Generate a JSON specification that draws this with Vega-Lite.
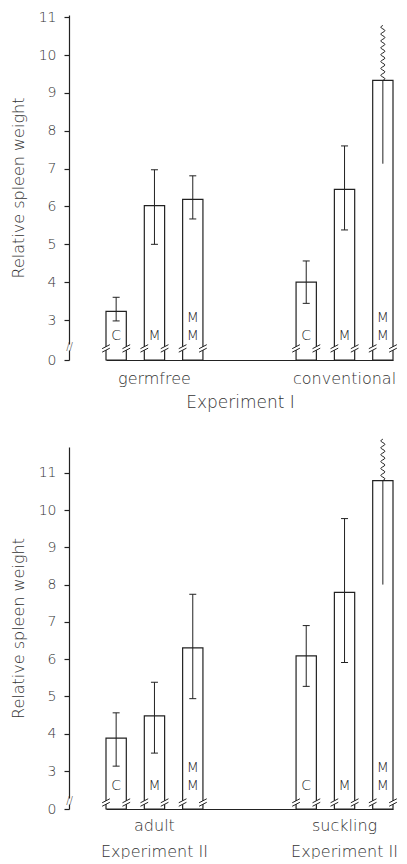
{
  "$schema": "https://vega.github.io/schema/vega-lite/v6.json",
  "background": "white",
  "padding": {"left": 10, "top": 10, "right": 0, "bottom": 0},
  "spacing": 87,
  "bounds": "flush",
  "resolve": {"scale": {"x": "independent", "y": "independent", "xOffset": "independent"}},
  "vconcat": [
    {
      "width": 287,
      "height": 345,
      "data": {"values": [
        {"group": "germfree", "t": "C", "v": 3.23, "lo": 2.93, "hi": 3.6},
        {"group": "germfree", "t": "M", "v": 6.02, "lo": 5.0, "hi": 6.97},
        {"group": "germfree", "t": "MM", "v": 6.19, "lo": 5.67, "hi": 6.81},
        {"group": "conventional", "t": "C", "v": 4.0, "lo": 3.44, "hi": 4.56},
        {"group": "conventional", "t": "M", "v": 6.45, "lo": 5.38, "hi": 7.6},
        {"group": "conventional", "t": "MM", "v": 9.33, "lo": 7.13, "hi": 10.8}
      ]},
      "encoding": {
        "x": {"field": "group", "type": "nominal", "sort": ["germfree", "conventional"],
              "scale": {"paddingInner": 0.49, "paddingOuter": 0},
              "axis": {"title": "Experiment I", "labelAngle": 0, "ticks": false, "labelPadding": 10, "labelFontSize": 16, "titleFontSize": 17, "titlePadding": 8, "titleX": 134, "titleAlign": "center"}},
        "xOffset": {"field": "t", "type": "nominal", "sort": ["C", "M", "MM"], "scale": {"paddingInner": 0.47, "paddingOuter": 0}}
      },
      "layer": [
        {"mark": {"type": "bar", "fill": "white", "stroke": "#222", "strokeWidth": 1.2},
         "encoding": {"y": {"field": "v", "type": "quantitative",
           "scale": {"domain": [0, 3, 11.06], "range": [345, 305, 0], "zero": false, "nice": false},
           "axis": {"title": "Relative spleen weight", "values": [0, 1, 3, 4, 5, 6, 7, 8, 9, 10, 11], "tickCount": 30, "format": "d",
             "offset": 37, "tickSize": 5, "grid": false, "labelOverlap": false, "labelFlush": false,
             "labelExpr": "datum.value == 1 ? '//' : datum.label",
             "labelPadding": {"condition": {"test": "datum.value == 1", "value": -5}, "value": 8},
             "labelAlign": {"condition": {"test": "datum.value == 1", "value": "center"}, "value": "right"},
             "labelFontSize": {"condition": {"test": "datum.value == 1", "value": 10}, "value": 14},
             "tickOpacity": {"condition": {"test": "datum.value == 1", "value": 0}, "value": 1},
             "domainDash": [10, 6, 2000], "titlePadding": 12, "titleFontSize": 16}}}},
        {"transform": [{"filter": "!(datum.t == 'MM' && datum.group == 'conventional')"}],
         "mark": {"type": "rule", "stroke": "#222", "strokeWidth": 1},
         "encoding": {"y": {"field": "lo", "type": "quantitative"}, "y2": {"field": "hi"}}},
        {"transform": [{"filter": "datum.t == 'MM' && datum.group == 'conventional'"}],
         "mark": {"type": "rule", "stroke": "#222", "strokeWidth": 1},
         "encoding": {"y": {"field": "lo", "type": "quantitative"}, "y2": {"field": "v"}}},
        {"transform": [{"filter": "!(datum.t == 'MM' && datum.group == 'conventional')"}],
         "mark": {"type": "point", "shape": "M-3.5,0L3.5,0", "size": 4, "filled": false, "opacity": 1, "stroke": "#222", "strokeWidth": 1},
         "encoding": {"y": {"field": "lo", "type": "quantitative"}}},
        {"transform": [{"filter": "!(datum.t == 'MM' && datum.group == 'conventional')"}],
         "mark": {"type": "point", "shape": "M-3.5,0L3.5,0", "size": 4, "filled": false, "opacity": 1, "stroke": "#222", "strokeWidth": 1},
         "encoding": {"y": {"field": "hi", "type": "quantitative"}}},
        {"transform": [{"filter": "datum.t == 'MM' && datum.group == 'conventional'"}],
         "mark": {"type": "point", "shape": "M0,0Q4,-1.72 0,-3.44Q-4,-5.16 0,-6.88Q4,-8.59 0,-10.31Q-4,-12.03 0,-13.75Q4,-15.47 0,-17.19Q-4,-18.91 0,-20.63Q4,-22.34 0,-24.06Q-4,-25.78 0,-27.5Q4,-29.22 0,-30.94Q-4,-32.66 0,-34.38Q4,-36.09 0,-37.81Q-4,-39.53 0,-41.25Q4,-42.97 0,-44.69Q-4,-46.41 0,-48.13Q4,-49.84 0,-51.56Q-4,-53.28 0,-55", "size": 4, "filled": false, "opacity": 1, "stroke": "#222", "strokeWidth": 1},
         "encoding": {"y": {"field": "v", "type": "quantitative"}}},
        {"mark": {"type": "point", "shape": "M-14,2L-6.3,-2L-6.3,1.5L-14,5.5ZM6.3,2L14,-2L14,1.5L6.3,5.5Z", "size": 4, "filled": true, "fill": "white", "strokeWidth": 0, "opacity": 1},
         "encoding": {"y": {"datum": 1, "type": "quantitative"}}},
        {"mark": {"type": "point", "shape": "M-14,2L-6.3,-2M-14,5.5L-6.3,1.5M6.3,2L14,-2M6.3,5.5L14,1.5", "size": 4, "filled": false, "opacity": 1, "stroke": "#222", "strokeWidth": 1},
         "encoding": {"y": {"datum": 1, "type": "quantitative"}}},
        {"transform": [{"filter": "datum.t != 'MM'"}],
         "mark": {"type": "text", "baseline": "bottom", "align": "center", "fontSize": 14, "fill": "#222"},
         "encoding": {"y": {"datum": 1.3, "type": "quantitative"}, "text": {"field": "t", "type": "nominal"}}},
        {"transform": [{"filter": "datum.t == 'MM'"}],
         "mark": {"type": "text", "baseline": "bottom", "align": "center", "fontSize": 14, "fill": "#222", "lineHeight": 18, "lineBreak": "\n", "dy": -18, "text": "M\nM"},
         "encoding": {"y": {"datum": 1.3, "type": "quantitative"}}}
      ]
    },
    {
      "width": 287,
      "height": 362,
      "data": {"values": [
        {"group": "adult", "t": "C", "v": 3.88, "lo": 3.13, "hi": 4.56},
        {"group": "adult", "t": "M", "v": 4.48, "lo": 3.48, "hi": 5.38},
        {"group": "adult", "t": "MM", "v": 6.3, "lo": 4.94, "hi": 7.74},
        {"group": "suckling", "t": "C", "v": 6.09, "lo": 5.27, "hi": 6.9},
        {"group": "suckling", "t": "M", "v": 7.79, "lo": 5.91, "hi": 9.77},
        {"group": "suckling", "t": "MM", "v": 10.79, "lo": 8.0, "hi": 11.9}
      ]},
      "encoding": {
        "x": {"field": "group", "type": "nominal", "sort": ["adult", "suckling"],
              "scale": {"paddingInner": 0.49, "paddingOuter": 0},
              "axis": {"title": null, "labelAngle": 0, "ticks": false, "labelPadding": 8, "labelFontSize": 16, "labelLineHeight": 26,
                       "labelExpr": "[datum.label, 'Experiment II']"}},
        "xOffset": {"field": "t", "type": "nominal", "sort": ["C", "M", "MM"], "scale": {"paddingInner": 0.47, "paddingOuter": 0}}
      },
      "layer": [
        {"mark": {"type": "bar", "fill": "white", "stroke": "#222", "strokeWidth": 1.2},
         "encoding": {"y": {"field": "v", "type": "quantitative",
           "scale": {"domain": [0, 3, 11.69], "range": [362, 324, 0], "zero": false, "nice": false},
           "axis": {"title": "Relative spleen weight", "values": [0, 0.65, 3, 4, 5, 6, 7, 8, 9, 10, 11], "tickCount": 30, "format": "d",
             "offset": 37, "tickSize": 5, "grid": false, "labelOverlap": false, "labelFlush": false,
             "labelExpr": "datum.value == 0.65 ? '//' : datum.label",
             "labelPadding": {"condition": {"test": "datum.value == 0.65", "value": -5}, "value": 8},
             "labelAlign": {"condition": {"test": "datum.value == 0.65", "value": "center"}, "value": "right"},
             "labelFontSize": {"condition": {"test": "datum.value == 0.65", "value": 10}, "value": 14},
             "tickOpacity": {"condition": {"test": "datum.value == 0.65", "value": 0}, "value": 1},
             "domainDash": [5, 6, 2000], "titlePadding": 12, "titleFontSize": 16}}}},
        {"transform": [{"filter": "!(datum.t == 'MM' && datum.group == 'suckling')"}],
         "mark": {"type": "rule", "stroke": "#222", "strokeWidth": 1},
         "encoding": {"y": {"field": "lo", "type": "quantitative"}, "y2": {"field": "hi"}}},
        {"transform": [{"filter": "datum.t == 'MM' && datum.group == 'suckling'"}],
         "mark": {"type": "rule", "stroke": "#222", "strokeWidth": 1},
         "encoding": {"y": {"field": "lo", "type": "quantitative"}, "y2": {"field": "v"}}},
        {"transform": [{"filter": "!(datum.t == 'MM' && datum.group == 'suckling')"}],
         "mark": {"type": "point", "shape": "M-3.5,0L3.5,0", "size": 4, "filled": false, "opacity": 1, "stroke": "#222", "strokeWidth": 1},
         "encoding": {"y": {"field": "lo", "type": "quantitative"}}},
        {"transform": [{"filter": "!(datum.t == 'MM' && datum.group == 'suckling')"}],
         "mark": {"type": "point", "shape": "M-3.5,0L3.5,0", "size": 4, "filled": false, "opacity": 1, "stroke": "#222", "strokeWidth": 1},
         "encoding": {"y": {"field": "hi", "type": "quantitative"}}},
        {"transform": [{"filter": "datum.t == 'MM' && datum.group == 'suckling'"}],
         "mark": {"type": "point", "shape": "M0,0Q4,-1.73 0,-3.45Q-4,-5.18 0,-6.9Q4,-8.63 0,-10.35Q-4,-12.08 0,-13.8Q4,-15.53 0,-17.25Q-4,-18.98 0,-20.7Q4,-22.43 0,-24.15Q-4,-25.88 0,-27.6Q4,-29.33 0,-31.05Q-4,-32.78 0,-34.5Q4,-36.23 0,-37.95Q-4,-39.68 0,-41.4", "size": 4, "filled": false, "opacity": 1, "stroke": "#222", "strokeWidth": 1},
         "encoding": {"y": {"field": "v", "type": "quantitative"}}},
        {"mark": {"type": "point", "shape": "M-14,2L-6.3,-2L-6.3,1.5L-14,5.5ZM6.3,2L14,-2L14,1.5L6.3,5.5Z", "size": 4, "filled": true, "fill": "white", "strokeWidth": 0, "opacity": 1},
         "encoding": {"y": {"datum": 0.65, "type": "quantitative"}}},
        {"mark": {"type": "point", "shape": "M-14,2L-6.3,-2M-14,5.5L-6.3,1.5M6.3,2L14,-2M6.3,5.5L14,1.5", "size": 4, "filled": false, "opacity": 1, "stroke": "#222", "strokeWidth": 1},
         "encoding": {"y": {"datum": 0.65, "type": "quantitative"}}},
        {"transform": [{"filter": "datum.t != 'MM'"}],
         "mark": {"type": "text", "baseline": "bottom", "align": "center", "fontSize": 14, "fill": "#222"},
         "encoding": {"y": {"datum": 1.3, "type": "quantitative"}, "text": {"field": "t", "type": "nominal"}}},
        {"transform": [{"filter": "datum.t == 'MM'"}],
         "mark": {"type": "text", "baseline": "bottom", "align": "center", "fontSize": 14, "fill": "#222", "lineHeight": 18, "lineBreak": "\n", "dy": -18, "text": "M\nM"},
         "encoding": {"y": {"datum": 1.3, "type": "quantitative"}}}
      ]
    }
  ],
  "config": {
    "view": {"stroke": null},
    "font": "DejaVu Sans",
    "axis": {"labelFont": "DejaVu Sans", "titleFont": "DejaVu Sans", "labelFontWeight": 200, "titleFontWeight": 200,
             "labelColor": "#333", "titleColor": "#333", "domainColor": "#222", "tickColor": "#222", "domainWidth": 1.2, "tickWidth": 1.2},
    "text": {"font": "DejaVu Sans", "fontWeight": 200}
  }
}
